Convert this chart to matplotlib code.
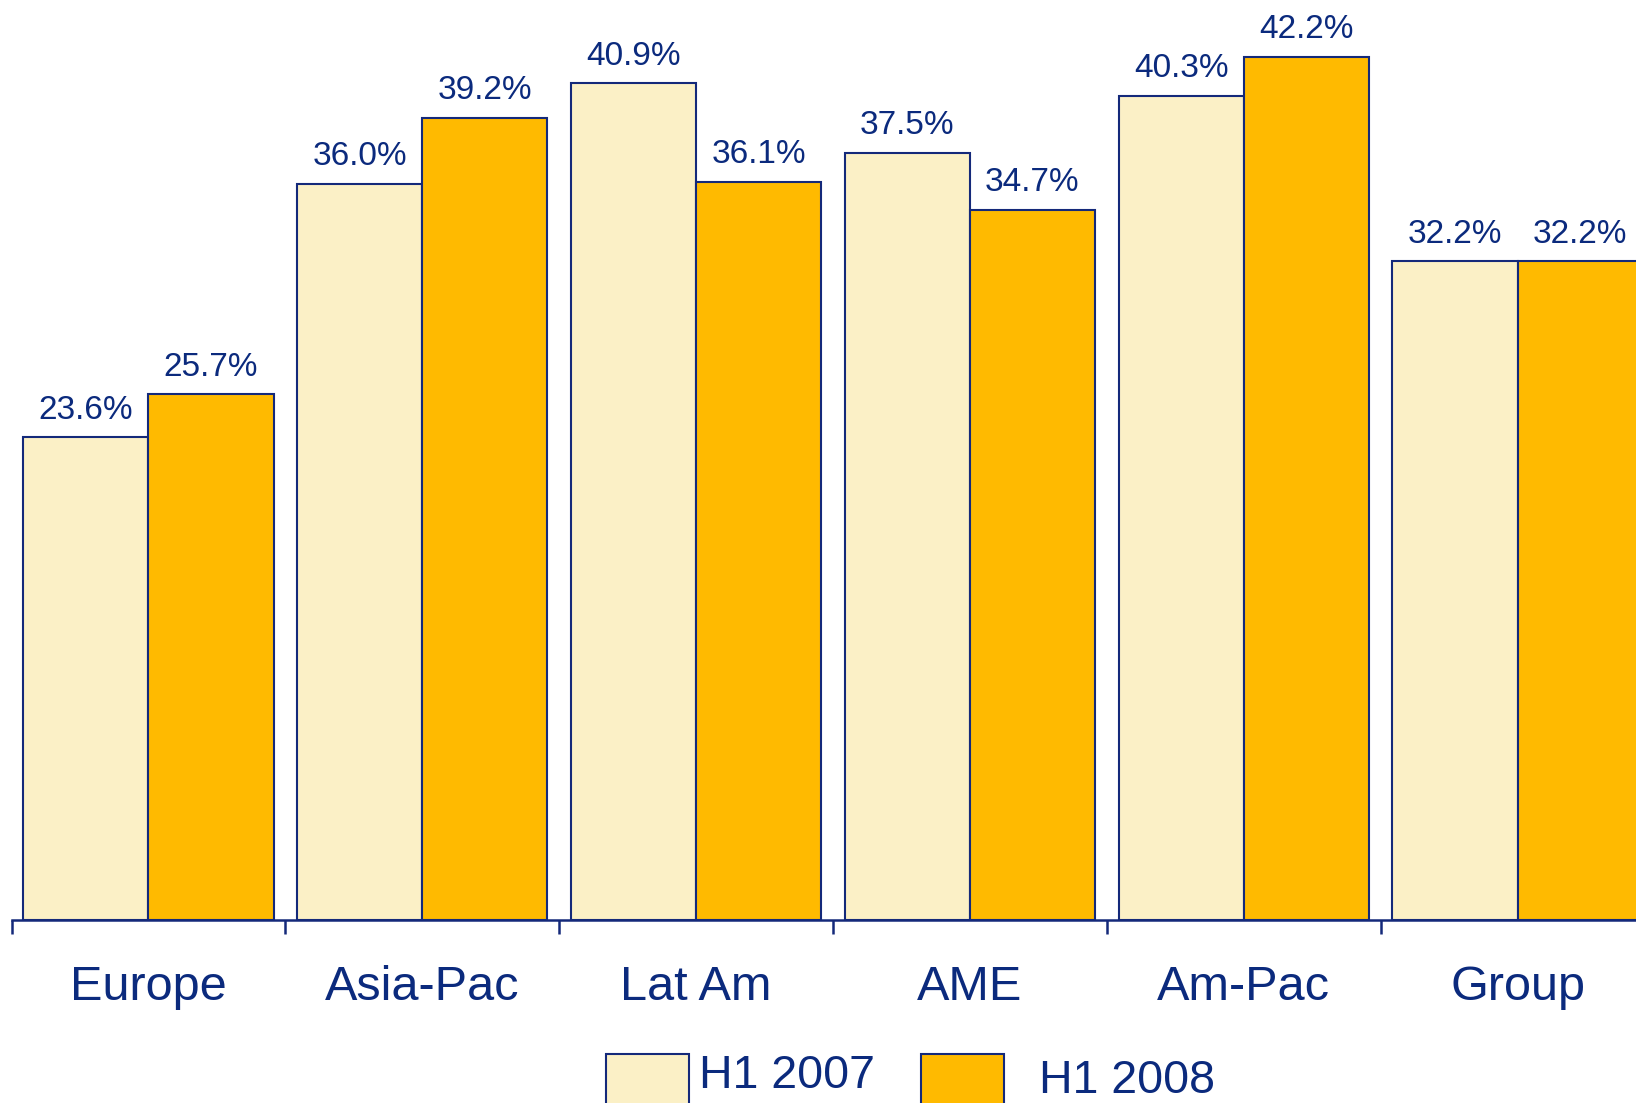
import matplotlib.pyplot as plt
from matplotlib.patches import Rectangle
from matplotlib.transforms import blended_transform_factory

regions = ["Europe", "Asia-Pac", "Lat Am", "AME", "Am-Pac", "Group"]
h1_2007 = [23.6, 36.0, 40.9, 37.5, 40.3, 32.2]
h1_2008 = [25.7, 39.2, 36.1, 34.7, 42.2, 32.2]
series_names = ["H1 2007", "H1 2008"]

navy = "#0B2A7D"
edge = "#14297A"
cream = "#FBF0C6"
gold = "#FFBA00"

plt.rcParams["font.family"] = ["Liberation Sans", "DejaVu Sans"]

fig = plt.figure(figsize=(16.36, 11.03), dpi=100)
# axes run slightly past the right edge, so the last group is clipped
ax = fig.add_axes([11.5 / 1636, 183 / 1103, 1643 / 1636, 900 / 1103])

bw = 0.457
x = list(range(len(regions)))
b1 = ax.bar([i - bw for i in x], h1_2007, width=bw, align="edge",
            color=cream, edgecolor=edge, linewidth=1.5, zorder=2)
b2 = ax.bar(x, h1_2008, width=bw, align="edge",
            color=gold, edgecolor=edge, linewidth=1.5, zorder=2)

for bars, vals in ((b1, h1_2007), (b2, h1_2008)):
    for rect, v in zip(bars, vals):
        ax.annotate(f"{v:.1f}%", (rect.get_x() + rect.get_width() / 2, v),
                    xytext=(0, 13.5), textcoords="offset points",
                    ha="center", va="baseline", fontsize=24, color=navy)

ax.set_xlim(-0.5, 5.5)
ax.set_ylim(0, 44)
ax.set_yticks([])
for s in ("left", "top", "right"):
    ax.spines[s].set_visible(False)
ax.spines["bottom"].set_color(edge)
ax.spines["bottom"].set_linewidth(1.8)
ax.set_xticks([i - 0.5 for i in range(len(regions) + 1)])
ax.set_xticklabels([])
ax.tick_params(axis="x", direction="out", length=10, width=1.8, color=edge)

# category names under each group
tr = blended_transform_factory(ax.transData, ax.transAxes)
for i, name in enumerate(regions):
    ax.annotate(name, (i, 0), xycoords=tr, xytext=(0, -57.6),
                textcoords="offset points", ha="center", va="baseline",
                fontsize=35, color=navy, annotation_clip=False)

# legend boxes along the bottom edge
W, H = 1636, 1103
for left, col, name, tx, base in ((606, cream, series_names[0], 699, 1088),
                                  (921, gold, series_names[1], 1039, 1093)):
    fig.patches.append(Rectangle((left / W, -10 / H), 83 / W, (H - 1054 + 10) / H,
                                 transform=fig.transFigure, facecolor=col,
                                 edgecolor=edge, linewidth=1.5))
    fig.text(tx / W, (H - base) / H, name, fontsize=33.5, color=navy,
             ha="left", va="baseline")

fig.savefig("out.png", dpi=100)
